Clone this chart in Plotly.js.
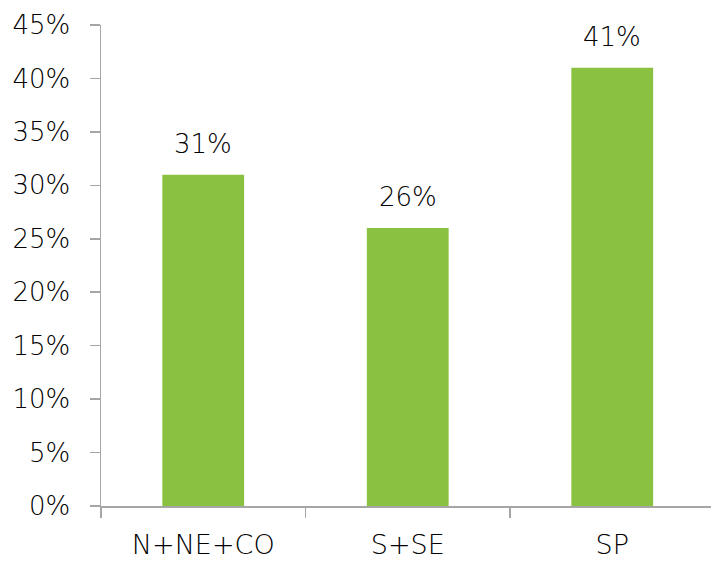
<!DOCTYPE html>
<html>
<head>
<meta charset="utf-8">
<script src="https://cdn.plot.ly/plotly-3.0.1.min.js"></script>
<style>html,body{margin:0;padding:0;background:#fff;}#chart{width:711px;height:567px;}</style>
</head>
<body>
<div id="chart"></div>
<script>
const categories = ["N+NE+CO", "S+SE", "SP"];
const values = [0.31, 0.26, 0.41];
const valueLabels = ["31%", "26%", "41%"];

const FONT = "DejaVu Sans, sans-serif";
const FSIZE = 26;
const trace = {
  type: "bar",
  x: categories,
  y: values,
  width: 0.4,
  marker: {color: "#8BC140"},
  hoverinfo: "none"
};

const annotations = categories.map((c, i) => ({
  x: c, y: values[i], text: valueLabels[i],
  xref: "x", yref: "y", showarrow: false,
  yanchor: "bottom", yshift: 14,
  font: {family: FONT, size: FSIZE, color: "#000", weight: 300}
}));

const layout = {
  width: 711, height: 567,
  margin: {l: 101, r: 0, t: 25, b: 61},
  paper_bgcolor: "#fff", plot_bgcolor: "#fff",
  showlegend: false,
  xaxis: {
    type: "category",
    range: [-0.5, 2.483],
    showgrid: false, zeroline: false,
    showline: true, linecolor: "#A6A6A6", linewidth: 1.5,
    ticks: "outside", tickson: "boundaries", ticklen: 10, tickcolor: "#A6A6A6", tickwidth: 1.5,
    tickfont: {family: FONT, size: 27, color: "#000", weight: 300},
    ticklabelstandoff: 14
  },
  yaxis: {
    range: [0, 0.45], dtick: 0.05, tick0: 0, tickformat: ".0%",
    showgrid: false, zeroline: false,
    showline: true, linecolor: "#A6A6A6", linewidth: 1.5,
    ticks: "outside", ticklen: 10, tickcolor: "#A6A6A6", tickwidth: 1.5,
    tickfont: {family: FONT, size: FSIZE, color: "#000", weight: 300},
    ticklabelstandoff: 14
  },
  annotations: annotations
};

Plotly.newPlot("chart", [trace], layout, {displayModeBar: false, staticPlot: true});
</script>
</body>
</html>
